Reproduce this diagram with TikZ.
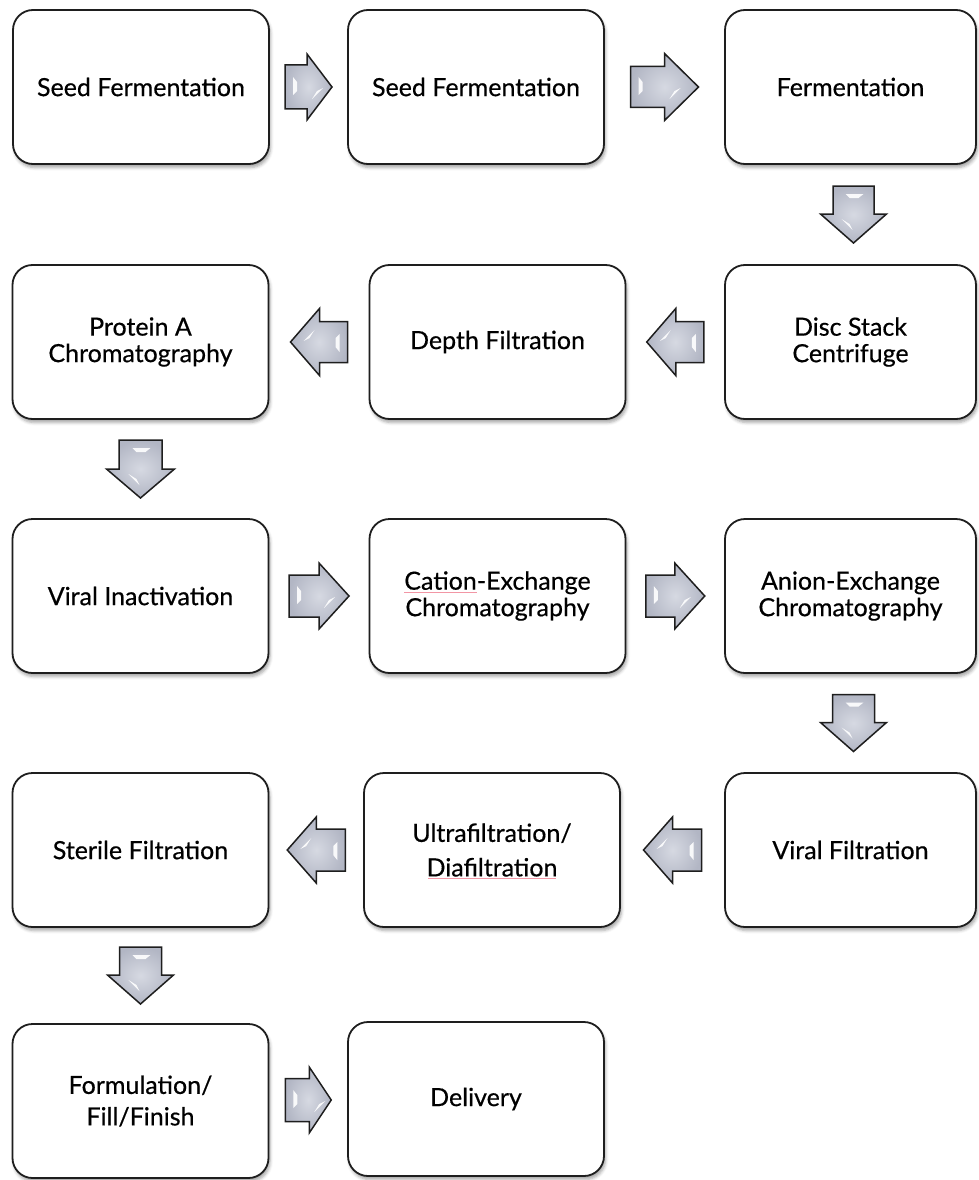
\documentclass[tikz,border=0pt]{standalone}
\usepackage{fontspec}
\setmainfont{Lato}
\newfontfamily\stagefont{Lato}[FakeBold=0.5]
\usetikzlibrary{calc,shadows.blur}

\definecolor{boxline}{RGB}{30,30,30}
\definecolor{arrowfill}{RGB}{178,182,196}
\definecolor{arrowlight}{RGB}{214,217,226}
\definecolor{spellred}{RGB}{242,150,165}

% faint spell-check underline under a word
\newsavebox\spellbox
\newcommand\spellmark[1]{\sbox\spellbox{#1}%
  \usebox\spellbox\llap{\color{spellred}\rule[-3pt]{\wd\spellbox}{1pt}}\color{black}}

% block arrow between two stages: centre, angle, length, head length, shaft half width, head half width
\newcommand\stagearrow[6]{%
  \begin{scope}[shift={#1}, rotate=#2]
    \path[arrbody] ({-(#3)/2},-#5) -- ({(#3)/2-(#4)},-#5) -- ({(#3)/2-(#4)},-#6)
      -- ({(#3)/2},0) -- ({(#3)/2-(#4)},#6) -- ({(#3)/2-(#4)},#5) -- ({-(#3)/2},#5) -- cycle;
    \fill[gleam] ({-(#3)/2+8},10) -- ({-(#3)/2+12},5) -- ({-(#3)/2+12},-4)
      -- ({-(#3)/2+8},-8) -- cycle;
    \fill[gleam] ({(#3)/2-(#4)+5},-12) -- ({(#3)/2-(#4)+16},-1) -- ({(#3)/2-(#4)+10},-4) -- cycle;
  \end{scope}}

\tikzset{
  stage/.style={draw=boxline, line width=1.8pt, fill=white, rounded corners=20pt,
    minimum width=256pt, minimum height=154pt, align=center, inner sep=0pt,
    font=\stagefont\fontsize{25}{26.5}\selectfont,
    blur shadow={shadow xshift=1.5pt, shadow yshift=-3.5pt, shadow blur radius=3pt, shadow opacity=35}},
  narrowstage/.style={stage, minimum width=251pt},
  arrbody/.style={draw=boxline, line width=1.5pt, line join=miter,
    inner color=arrowlight, outer color=arrowfill},
  gleam/.style={fill=white, opacity=0.9},
  spellline/.style={draw=spellred, line width=1pt}
}

\begin{document}
\begin{tikzpicture}[x=1pt, y=1pt]
  \useasboundingbox (0,0) rectangle (978,-1180);

  % stages
  \node[stage] (seed1) at (141,-87) {Seed Fermentation};
  \node[stage] (seed2) at (476,-87) {Seed Fermentation};
  \node[narrowstage] (ferm) at (850.5,-87) {Fermentation};

  \node[narrowstage] (disc) at (850.5,-342) {Disc Stack\\Centrifuge};
  \node[stage] (depth) at (497.5,-342) {Depth Filtration};
  \node[stage] (protA) at (140.5,-342) {Protein A\\Chromatography};

  \node[stage] (vinact) at (140.5,-596) {Viral Inactivation};
  \node[stage] (cation) at (497.5,-596) {\spellmark{Cation}-Exchange\\Chromatography};
  \node[narrowstage] (anion) at (850.5,-596) {Anion-Exchange\\Chromatography};

  \node[narrowstage] (vfilt) at (850.5,-850) {Viral Filtration};
  \node[stage] (ufdf) at (492,-850) {Ultrafiltration/\\[8pt]Diafiltration};
  \node[stage] (sterile) at (140.5,-850) {Sterile Filtration};

  \node[stage] (formfill) at (140.5,-1101) {Formulation/\\[5pt]Fill/Finish};
  \node[stage] (deliv) at (476,-1099) {Delivery};

  % spell-check mark under the second line of the UF/DF stage
  \path[spellline] ($(ufdf.center)+(-64,-28.5)$) -- ($(ufdf.center)+(64,-28.5)$);

  % flow arrows
  \stagearrow{($(seed1.east)!0.5!(seed2.west)$)}{0}{47}{25}{22}{33}
  \stagearrow{($(seed2.east)!0.5!(ferm.west)$)}{0}{68}{34}{20.5}{33.5}
  \stagearrow{($(ferm.south)!0.5!(disc.north)+(3,0)$)}{-90}{57}{29}{20.5}{33}
  \stagearrow{($(disc.west)!0.5!(depth.east)$)}{180}{57}{29}{20.5}{33.5}
  \stagearrow{($(depth.west)!0.5!(protA.east)$)}{180}{57}{29}{20.5}{33.5}
  \stagearrow{($(protA.south)!0.5!(vinact.north)$)}{-90}{58}{29}{21.5}{34}
  \stagearrow{($(vinact.east)!0.5!(cation.west)$)}{0}{60}{30}{21}{33}
  \stagearrow{($(cation.east)!0.5!(anion.west)$)}{0}{59}{30}{21}{33}
  \stagearrow{($(anion.south)!0.5!(vfilt.north)+(3,0)$)}{-90}{57}{29}{21}{33}
  \stagearrow{($(vfilt.west)!0.5!(ufdf.east)$)}{180}{58}{29}{21}{33}
  \stagearrow{($(ufdf.west)!0.5!(sterile.east)$)}{180}{58}{29}{21}{33}
  \stagearrow{($(sterile.south)!0.5!(formfill.north)$)}{-90}{57}{29}{21}{33}
  \stagearrow{($(formfill.east)!0.5!(deliv.west)$)}{0}{46}{22}{21.5}{33}
\end{tikzpicture}
\end{document}
